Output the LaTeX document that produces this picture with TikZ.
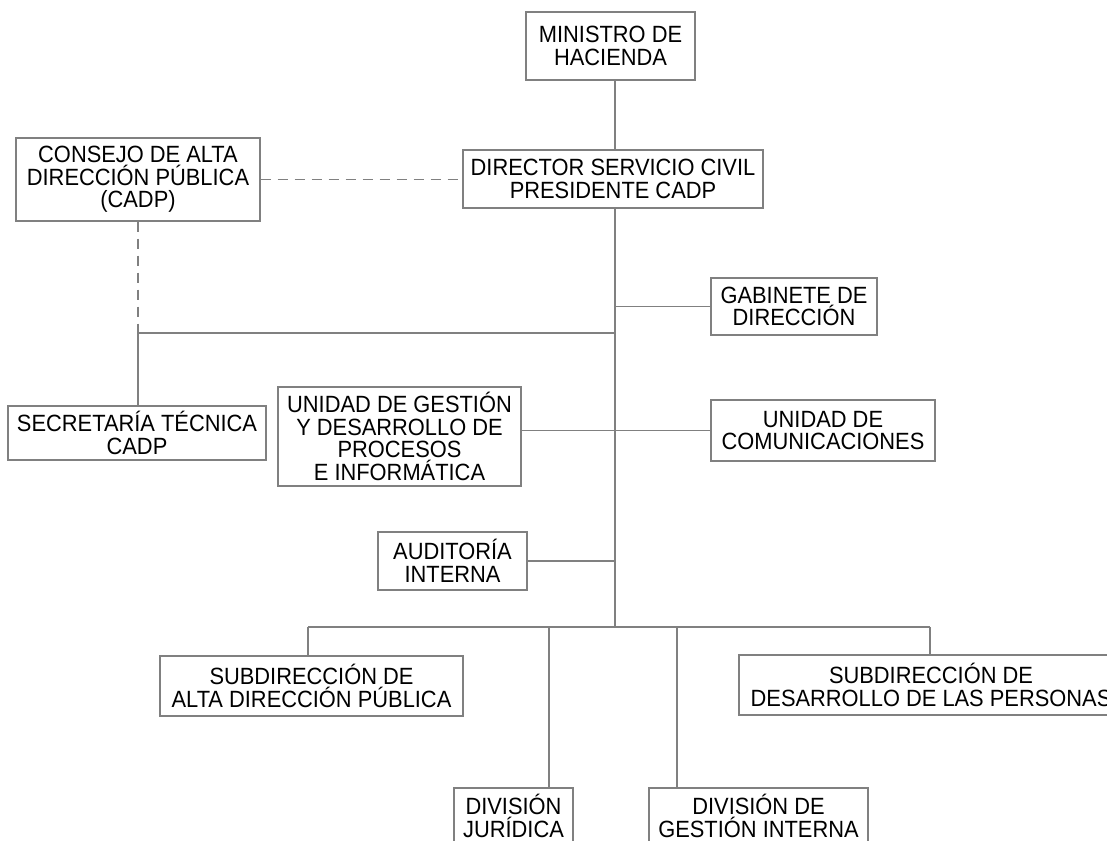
\documentclass[tikz,border=0pt]{standalone}
\usepackage{fontspec}
\setmainfont[FakeStretch=0.93]{Liberation Sans}
\definecolor{linegray}{RGB}{128,128,128}
\begin{document}
\begin{tikzpicture}[x=1pt,y=-1pt,
  box/.style={draw=linegray, line width=1.1pt, align=center, inner sep=0pt,
    font=\fontsize{23.5}{22.5}\selectfont, text=black},
  conn/.style={draw=linegray, line width=1.1pt},
  dashconn/.style={draw=linegray, line width=1.1pt, dash pattern=on 10pt off 7pt}]
\useasboundingbox (0,0) rectangle (1107,840);
\clip (0,0) rectangle (1107,840);
\node[box, minimum width=169pt, minimum height=68pt] (ministro) at (610.5,46) {MINISTRO DE\\HACIENDA};
\node[box, minimum width=300pt, minimum height=58pt] (director) at (613,179) {DIRECTOR SERVICIO CIVIL\\PRESIDENTE CADP};
\node[box, minimum width=244pt, minimum height=83pt] (consejo) at (138,179.5) {CONSEJO DE ALTA\\DIRECCIÓN PÚBLICA\\(CADP)};
\node[box, minimum width=166pt, minimum height=57pt] (gabinete) at (794,306.5) {GABINETE DE\\DIRECCIÓN};
\node[box, minimum width=258pt, minimum height=54pt] (secretaria) at (137,433) {SECRETARÍA TÉCNICA\\CADP};
\node[box, minimum width=243pt, minimum height=99pt] (ugestion) at (399.5,436.5) {UNIDAD DE GESTIÓN\\Y DESARROLLO DE\\PROCESOS\\E INFORMÁTICA};
\node[box, minimum width=224pt, minimum height=61pt] (ucom) at (823,430.5) {UNIDAD DE\\COMUNICACIONES};
\node[box, minimum width=149pt, minimum height=58pt] (auditoria) at (452.5,561) {AUDITORÍA\\INTERNA};
\node[box, minimum width=303pt, minimum height=60pt] (subadp) at (311.5,686) {SUBDIRECCIÓN DE\\ALTA DIRECCIÓN PÚBLICA};
\node[box, minimum width=384pt, minimum height=60pt] (subdes) at (931,685) {SUBDIRECCIÓN DE\\DESARROLLO DE LAS PERSONAS};
\node[box, minimum width=119pt, minimum height=56pt] (juridica) at (513.5,816) {DIVISIÓN\\JURÍDICA};
\node[box, minimum width=219pt, minimum height=56pt] (gestion) at (758.5,816) {DIVISIÓN DE\\GESTIÓN INTERNA};
\coordinate (busL) at (138,333);
\coordinate (busR) at (615,333);
\coordinate (spEnd) at (615,627);
\coordinate (b1) at (308,627);
\coordinate (b2) at (549,627);
\coordinate (b3) at (677,627);
\coordinate (b4) at (930,627);
\draw[conn] (ministro.south -| spEnd) -- (director.north -| spEnd);
\draw[conn] (director.south -| spEnd) -- (spEnd);
\draw[dashconn] (consejo.east) -- (consejo.east -| director.west);
\draw[dashconn] (consejo.south) -- (busL);
\draw[conn] (busL) -- (busR);
\draw[conn] (busL) -- (busL |- secretaria.north);
\draw[conn] (gabinete.west) -- (gabinete.west -| spEnd);
\draw[conn] (ugestion.east |- ucom.west) -- (ucom.west);
\draw[conn] (auditoria.east) -- (auditoria.east -| spEnd);
\draw[conn] (b1) -- (b4);
\draw[conn] (b1) -- (b1 |- subadp.north);
\draw[conn] (b2) -- (b2 |- juridica.north);
\draw[conn] (b3) -- (b3 |- gestion.north);
\draw[conn] (b4) -- (b4 |- subdes.north);
\end{tikzpicture}
\end{document}
